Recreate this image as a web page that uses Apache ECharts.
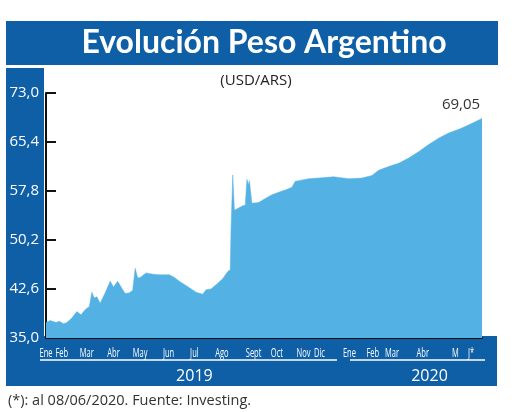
<!DOCTYPE html>
<html>
<head>
<meta charset="utf-8">
<script src="https://cdn.jsdelivr.net/npm/echarts@6/dist/echarts.min.js"></script>
<style>
html,body{margin:0;padding:0;background:#fff;}
#c{width:520px;height:412px;}
</style>
</head>
<body>
<div id="c"></div>
<script>
// ---- data ----
var dates = [
'2019-01-02','2019-01-07','2019-01-14','2019-01-18','2019-01-23','2019-01-27',
'2019-02-02','2019-02-08','2019-02-13','2019-02-18','2019-02-23','2019-02-26',
'2019-03-01','2019-03-04','2019-03-08','2019-03-14','2019-03-20','2019-03-24','2019-03-29',
'2019-04-04','2019-04-07','2019-04-12','2019-04-16','2019-04-19','2019-04-22','2019-04-25',
'2019-05-02','2019-05-10','2019-05-18','2019-05-30',
'2019-06-05','2019-06-11','2019-06-17','2019-06-23',
'2019-07-01','2019-07-09','2019-07-13','2019-07-19','2019-07-27',
'2019-08-02','2019-08-08','2019-08-11','2019-08-12','2019-08-14','2019-08-16','2019-08-20','2019-08-26','2019-08-29','2019-08-31',
'2019-09-02','2019-09-03','2019-09-06','2019-09-14','2019-09-23','2019-09-30',
'2019-10-08','2019-10-17','2019-10-24','2019-10-28',
'2019-11-01','2019-11-13','2019-11-25',
'2019-12-13','2019-12-31',
'2020-01-16','2020-01-28',
'2020-02-05','2020-02-17','2020-02-29',
'2020-03-12','2020-03-24',
'2020-04-05','2020-04-17','2020-04-29',
'2020-05-12','2020-05-24','2020-06-08'
];
var usdArs = [
37.4,37.7,37.4,37.6,37.2,37.4,
38.1,39.1,38.6,39.4,39.9,42.1,
41.2,41.4,40.4,42.0,43.8,42.9,43.8,
42.5,41.9,42.0,42.4,45.8,44.3,44.4,
45.1,44.9,44.8,44.8,
44.4,43.8,43.3,42.8,
42.1,41.8,42.5,42.6,43.5,
44.2,45.3,45.6,52.0,60.3,54.8,55.1,55.5,55.6,59.6,
58.8,59.4,55.9,56.0,56.7,57.2,
57.6,58.0,58.4,59.3,
59.4,59.7,59.8,
60.0,59.7,
59.8,60.2,
61.0,61.6,62.1,
62.9,63.9,
65.0,66.0,66.8,
67.4,68.1,69.05
];
var monthLabels = ['Ene','Feb','Mar','Abr','May','Jun','Jul','Ago','Sept','Oct','Nov','Dic','Ene','Feb','Mar','Abr','M','J*'];
var monthLabelDays = [1,20,50,82,114,148,179,212,250,278,310,329,365,393,416,453,492,511];
var yearLabels = ['2019','2020'];
var yearLabelDays = [179,461];
var yTicks = [35.0,42.6,50.2,57.8,65.4,73.0];
var lastLabel = '69,05';

// ---- build ----
var base = Date.UTC(2019,0,1);
function dayOf(s){var p=s.split('-');return Math.round((Date.UTC(+p[0],+p[1]-1,+p[2])-base)/864e5);}
var seriesData = dates.map(function(d,i){return [dayOf(d), usdArs[i]];});
var xMin = dayOf(dates[0]), xMax = dayOf(dates[dates.length-1]);
var lastPt = seriesData[seriesData.length-1];

var BLUE = '#0e5fa6';
var baseGraphic = [
  {type:'rect', z:-10, shape:{x:6,y:21,width:492,height:44}, style:{fill:BLUE}},
  {type:'rect', z:-10, shape:{x:6,y:68,width:38,height:318}, style:{fill:BLUE}},
  {type:'rect', z:-10, shape:{x:6,y:336,width:491,height:50}, style:{fill:BLUE}},
  {type:'text', z:10, x:264, y:43, style:{text:'Evolución Peso Argentino', fill:'#fff', font:'bold 32px Lato', textAlign:'center', textVerticalAlign:'middle'}},
  {type:'text', z:10, x:256, y:81, style:{text:'(USD/ARS)', fill:'#222', font:'15px "Open Sans"', textAlign:'center', textVerticalAlign:'middle'}},
  {type:'text', z:10, x:8, y:401, style:{text:'(*): al 08/06/2020. Fuente: Investing.', fill:'#333', font:'14.5px "Open Sans"', textAlign:'left', textVerticalAlign:'middle'}},
  {type:'line', z:10, shape:{x1:40,y1:360,x2:337,y2:360}, style:{stroke:'#fff',lineWidth:1.5}},
  {type:'line', z:10, shape:{x1:350,y1:360,x2:485,y2:360}, style:{stroke:'#fff',lineWidth:1.5}}
];

var chart = echarts.init(document.getElementById('c'), null, {renderer:'canvas'});
chart.setOption({
  animation:false,
  backgroundColor:'#fff',
  grid:{left:46,right:38,top:93,bottom:74,containLabel:false},
  xAxis:[{
    type:'value', min:xMin, max:xMax,
    axisLine:{show:true,lineStyle:{color:'#111',width:2}},
    axisTick:{show:false}, splitLine:{show:false},
    axisLabel:{show:false}
  },{
    type:'value', min:xMin, max:xMax, position:'bottom', offset:26,
    axisLine:{show:false}, axisTick:{show:false}, splitLine:{show:false},
    axisLabel:{
      customValues: yearLabelDays,
      formatter:function(v){var i=yearLabelDays.indexOf(v);return i>=0?yearLabels[i]:'';},
      color:'#fff', fontSize:16, margin:4, fontFamily:'Open Sans'
    }
  }],
  yAxis:{
    type:'value', min:yTicks[0], max:yTicks[yTicks.length-1],
    axisLine:{show:true,lineStyle:{color:'#111',width:2}},
    axisTick:{show:true,inside:true,length:10,lineStyle:{color:'#111',width:2},customValues:yTicks.slice(1)},
    splitLine:{show:false},
    axisLabel:{customValues:yTicks, color:'#ffffff', margin:7, showMinLabel:true, showMaxLabel:true,
      formatter:function(v){return '{w|'+v.toFixed(1).replace('.',',')+'}';},
      rich:{w:{color:'#ffffff', fontSize:15, fontFamily:'Open Sans'}}}
  },
  series:[{
    type:'line', xAxisIndex:0, data:seriesData, showSymbol:false, symbol:'none',
    lineStyle:{width:0.5,color:'#53b2e3'},
    areaStyle:{color:'#53b2e3',opacity:1},
    z:3,
    markPoint:{
      symbol:'circle', symbolSize:0,
      data:[{coord:lastPt, value:lastLabel}],
      label:{show:true, position:'top', offset:[-21,-2], distance:4,
        formatter:function(){return lastLabel;}, color:'#333', fontSize:15, fontFamily:'Open Sans'}
    }
  }],
  graphic:baseGraphic
});

// month tick labels placed through the x axis scale (condensed look)
var monthGraphic = monthLabelDays.map(function(d,i){
  var px = chart.convertToPixel({xAxisIndex:0}, d);
  return {type:'text', z:10, x:px, y:353, scaleX:0.58,
    style:{text:monthLabels[i], fill:'#fff', font:'13px "Open Sans"', textAlign:'center', textVerticalAlign:'middle'}};
});
chart.setOption({graphic: baseGraphic.concat(monthGraphic)});
</script>
</body>
</html>
